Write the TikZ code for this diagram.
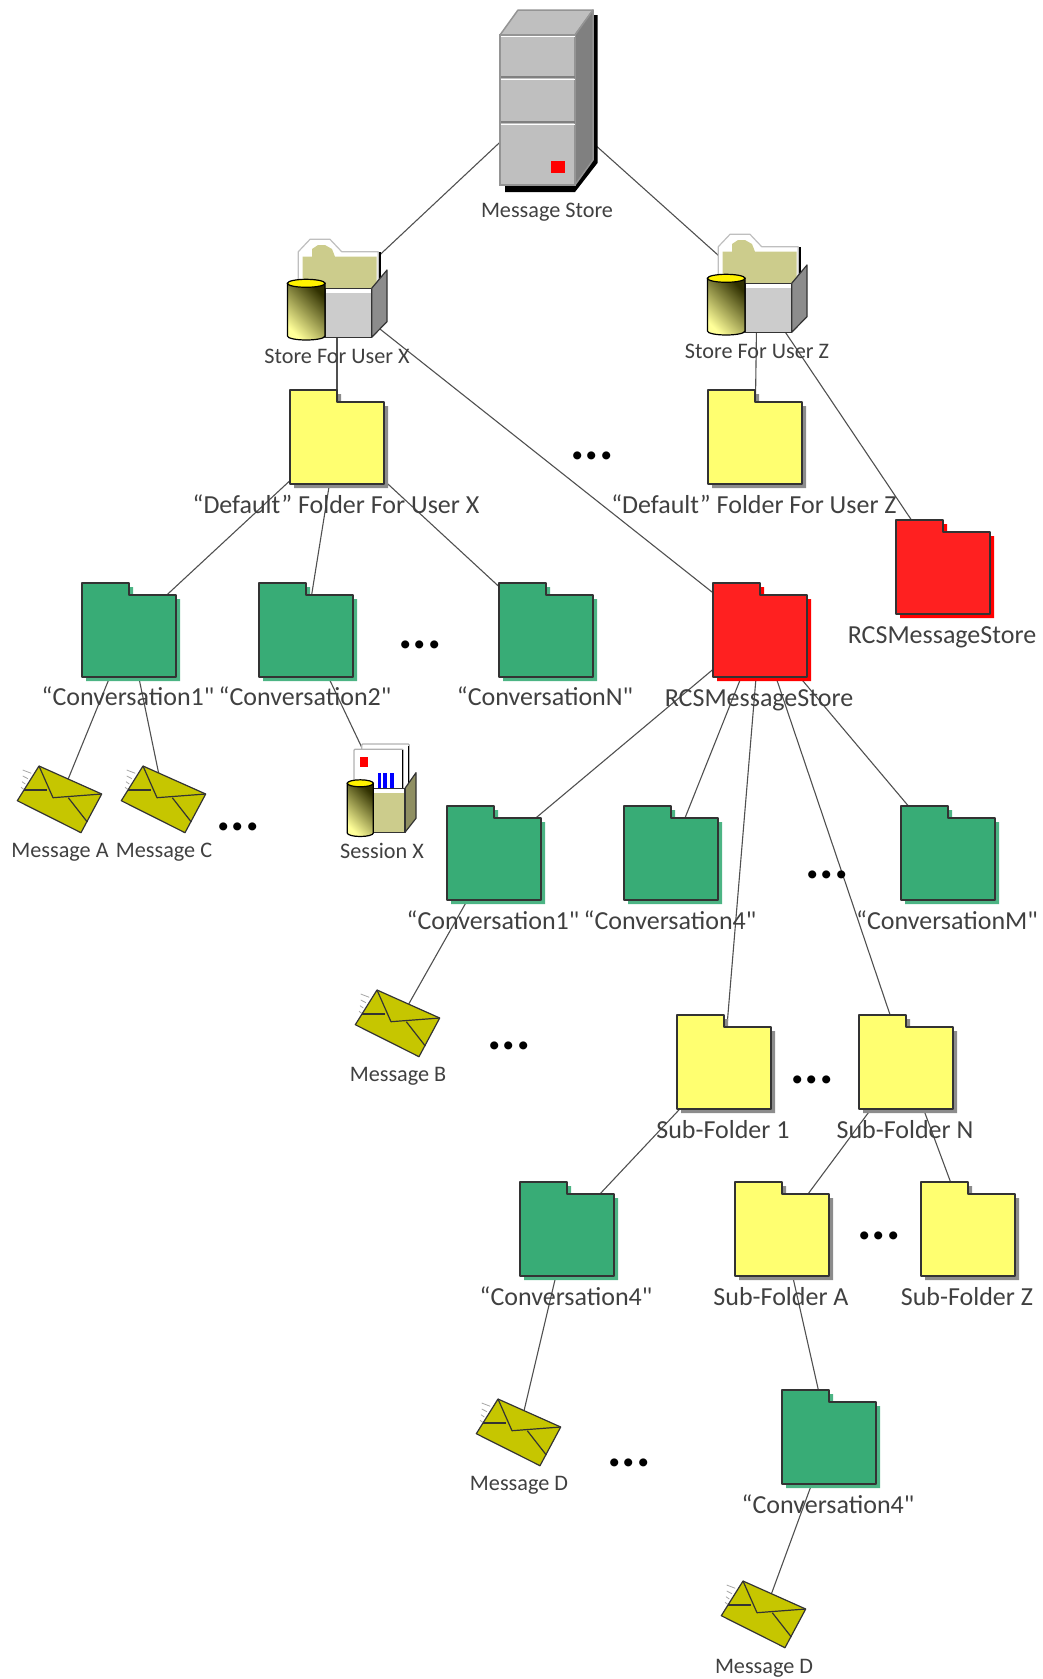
\documentclass[tikz,border=0pt]{standalone}
\usepackage{fontspec}
\newfontfamily\labelfont{Carlito}
\usetikzlibrary{positioning,backgrounds}

\definecolor{linkgray}{HTML}{505050}
\definecolor{textgray}{HTML}{404040}
\definecolor{yellowfill}{HTML}{FFFF70}
\definecolor{greenfill}{HTML}{38AC76}
\definecolor{redfill}{HTML}{FF2020}
\definecolor{envfill}{HTML}{C6C600}
\definecolor{khaki}{HTML}{CCCC8C}
\definecolor{cylbright}{HTML}{FFFF99}
\definecolor{cylmiddle}{HTML}{DADA70}
\definecolor{cyldark}{HTML}{303000}

\tikzset{
  hub/.style={inner sep=0pt,outer sep=0pt,minimum size=0pt},
  biglabel/.style={text=textgray,inner sep=0pt,xshift=-1pt,text height=17pt,text depth=0pt,font=\labelfont\fontsize{26}{28}\selectfont},
  smalllabel/.style={text=textgray,inner sep=0pt,text height=14pt,text depth=0pt,font=\labelfont\fontsize{22.2}{24}\selectfont},
  moredots/.style={inner sep=0pt,anchor=base,font=\labelfont\fontsize{54}{56}\selectfont\bfseries},
  link/.style={draw=linkgray,line width=1.1pt},
  outline/.style={draw=black!80,line width=1.2pt,line join=round},
  cylshade/.style={draw=black,line width=1.2pt,bottom color=cylbright,middle color=cylmiddle,top color=cyldark,shading angle=-45},
  pics/folder/.style 2 args={code={
    \fill[#2] (-43,-43) -- (4,-43) -- (4,-31) -- (51,-31) -- (51,51) -- (-43,51) -- cycle;
    \filldraw[outline,fill=#1] (-47,-47) -- (0,-47) -- (0,-35) -- (47,-35) -- (47,47) -- (-47,47) -- cycle;
  }},
  pics/envelope/.style={code={
    \foreach \xa/\ya/\xb/\yb in {-37.3/-29/-28.7/-25.7,-37.3/-23/-32/-20.3,-38/-17.3/-34.7/-15,-39/-11.7/-36.3/-9.7}
      \draw[black!35,line width=0.8pt] (\xa,\ya) -- (\xb,\yb);
    \filldraw[outline,fill=envfill] (-21,-33) -- (41.7,-5) -- (21,33.7) -- (-42.7,1.7) -- cycle;
    \draw[outline] (-21,-33) -- (-7,-1.3) -- (41.7,-5);
    \draw[outline] (-36,-9) -- (-13.3,-9);
    \draw[outline] (8.3,-1.3) -- (27.3,23);
  }},
  pics/server/.style={code={
    \fill[black] (48,-85) -- (52.5,-85) -- (52.5,63) -- (30,92) -- (-40,92) -- (-40,85) -- (30,85) -- (48,60) -- cycle;
    \filldraw[draw=black!42,line width=1.5pt,line join=round,fill=black!25] (-45,-65) -- (-27,-90) -- (48,-90) -- (30,-65) -- cycle;
    \filldraw[draw=black!42,line width=1.5pt,line join=round,fill=black!50] (30,-65) -- (48,-90) -- (48,60) -- (30,85) -- cycle;
    \filldraw[draw=black!42,line width=1.5pt,fill=black!25] (-45,-65) rectangle (30,85);
    \draw[white,line width=1.5pt] (-44,-63.5) -- (30,-63.5);
    \draw[black!50,line width=1.2pt] (-44,-23) -- (30,-23);
    \draw[white,line width=1.5pt] (-44,-20.5) -- (30,-20.5);
    \draw[black!50,line width=1.2pt] (-44,22) -- (30,22);
    \draw[white,line width=1.5pt] (-44,24.5) -- (30,24.5);
    \fill[red] (6,60.7) rectangle (20,73);
  }},
  pics/userstore/.style={code={
    \filldraw[draw=black!25,line width=1.2pt,line join=round,fill=white] (-38.7,-6.7) -- (-38.7,-43.3) -- (-27,-55.7) -- (-7,-55.7) -- (4.7,-43.3) -- (41.3,-43.3) -- (41.3,-6.7) -- cycle;
    \fill[khaki] (-34.3,-6.7) -- (-34.3,-38.3) -- (-25,-38.3) -- (-25,-46) -- (-19,-50) -- (-12,-50) -- (-5,-46) -- (-2,-38.3) -- (39.7,-38.3) -- (39.7,-6.7) -- cycle;
    \draw[black,line width=2pt] (42.5,-43) -- (42.5,-10);
    \filldraw[outline,fill=black!45] (34.7,-6.7) -- (50,-25) -- (50,26.7) -- (34.7,42.3) -- cycle;
    \filldraw[outline,fill=black!20] (-12,-6.7) rectangle (34.7,42.3);
    \fill[white] (-11,-6) rectangle (34,-2);
    \path[cylshade] (-49.6,-11.7) -- (-49.6,41) arc[start angle=180,end angle=360,x radius=18.8,y radius=-4] -- (-12,-11.7) -- cycle;
    \filldraw[draw=black,line width=1.2pt,fill=yellow] (-30.8,-11.7) ellipse[x radius=18.8,y radius=4];
  }},
  pics/session/.style={code={
    \filldraw[draw=black!30,line width=1.2pt,fill=white,rounded corners=1pt] (-20.3,-1.7) -- (-20.3,-46) -- (27.3,-46) -- (27.3,-1.7);
    \draw[black,line width=1pt] (26,-44) -- (26,-1.7);
    \filldraw[draw=black!30,line width=1.2pt,fill=white,rounded corners=1pt] (-28,-1.7) -- (-28,-40.7) -- (21.3,-40.7) -- (21.3,-1.7);
    \draw[black,line width=1pt] (20,-40) -- (20,-1.7);
    \fill[red] (-22.3,-33.3) rectangle (-14,-22.7);
    \fill[blue] (-4.3,-16.7) rectangle (-1.3,-1.7);
    \fill[blue] (1.3,-16.7) rectangle (4.7,-1.7);
    \fill[blue] (8,-16.7) rectangle (12.3,-1.7);
    \filldraw[outline,fill=khaki!70!black] (23,-1.7) -- (34,-17.3) -- (34,28.3) -- (23,42.3) -- cycle;
    \filldraw[outline,fill=khaki] (-9.3,-1.7) rectangle (23,42.3);
    \fill[white] (-8.5,-1) rectangle (22.3,3);
    \path[cylshade] (-34.7,-6.7) -- (-34.7,43) arc[start angle=180,end angle=360,x radius=13,y radius=-3.5] -- (-8.7,-6.7) -- cycle;
    \filldraw[draw=black,line width=1.2pt,fill=yellow] (-21.7,-6.7) ellipse[x radius=13,y radius=3.5];
  }},
}

\begin{document}
\begin{tikzpicture}[x=1pt,y=-1pt,on grid]
  \useasboundingbox (0,0) rectangle (1043,1679);

  % server and the two user stores
  \node[hub] (store) at (545,100) {};
  \pic at (store) {server};
  \node[smalllabel,below=110pt of store,xshift=2pt] (storetext) {Message Store};

  \node[hub] (userX) at (337,295) {};
  \pic at (userX) {userstore};
  \node[smalllabel,below=61pt of userX] (userXtext) {Store For User X};

  \node[hub] (userZ) at (757,290) {};
  \pic at (userZ) {userstore};
  \node[smalllabel,below=61pt of userZ] (userZtext) {Store For User Z};

  % folders of user X and user Z
  \node[hub] (defaultX) at (337,437) {};
  \pic at (defaultX) {folder={yellowfill}{black!45}};
  \node[biglabel,below=68pt of defaultX] (defaultXtext) {“Default” Folder For User X};

  \node[hub] (defaultZ) at (755,437) {};
  \pic at (defaultZ) {folder={yellowfill}{black!45}};
  \node[biglabel,below=68pt of defaultZ] (defaultZtext) {“Default” Folder For User Z};

  \node[hub] (rcsZ) at (943,567) {};
  \pic at (rcsZ) {folder={redfill}{red}};
  \node[biglabel,below=68pt of rcsZ] (rcsZtext) {RCSMessageStore};

  \node[hub] (convA) at (129,630) {};
  \pic at (convA) {folder={greenfill}{greenfill!90!white}};
  \node[biglabel,below=67pt of convA] (convAtext) {“Conversation1"};

  \node[hub] (convB) at (306,630) {};
  \pic at (convB) {folder={greenfill}{greenfill!90!white}};
  \node[biglabel,below=67pt of convB] (convBtext) {“Conversation2"};

  \node[hub] (convN) at (546,630) {};
  \pic at (convN) {folder={greenfill}{greenfill!90!white}};
  \node[biglabel,below=67pt of convN] (convNtext) {“ConversationN"};

  \node[hub] (rcsX) at (760,630) {};
  \pic at (rcsX) {folder={redfill}{red}};
  \node[biglabel,below=68pt of rcsX] (rcsXtext) {RCSMessageStore};

  % messages and session of the default folder
  \node[hub] (msgA) at (60,799) {};
  \pic at (msgA) {envelope};
  \node[smalllabel,below=51pt of msgA] (msgAtext) {Message A};

  \node[hub] (msgC) at (164,799) {};
  \pic at (msgC) {envelope};
  \node[smalllabel,below=51pt of msgC] (msgCtext) {Message C};

  \node[hub] (sessionX) at (382,790) {};
  \pic at (sessionX) {session};
  \node[smalllabel,below=61pt of sessionX] (sessionXtext) {Session X};

  % inside the RCS folder
  \node[hub] (rcsconvA) at (494,853) {};
  \pic at (rcsconvA) {folder={greenfill}{greenfill!90!white}};
  \node[biglabel,below=68pt of rcsconvA] (rcsconvAtext) {“Conversation1"};

  \node[hub] (rcsconvD) at (671,853) {};
  \pic at (rcsconvD) {folder={greenfill}{greenfill!90!white}};
  \node[biglabel,below=68pt of rcsconvD] (rcsconvDtext) {“Conversation4"};

  \node[hub] (rcsconvM) at (948,853) {};
  \pic at (rcsconvM) {folder={greenfill}{greenfill!90!white}};
  \node[biglabel,below=68pt of rcsconvM] (rcsconvMtext) {“ConversationM"};

  \node[hub] (msgB) at (398,1023) {};
  \pic at (msgB) {envelope};
  \node[smalllabel,below=51pt of msgB] (msgBtext) {Message B};

  \node[hub] (subA) at (724,1062) {};
  \pic at (subA) {folder={yellowfill}{black!45}};
  \node[biglabel,below=68pt of subA] (subAtext) {Sub-Folder 1};

  \node[hub] (subN) at (906,1062) {};
  \pic at (subN) {folder={yellowfill}{black!45}};
  \node[biglabel,below=68pt of subN] (subNtext) {Sub-Folder N};

  \node[hub] (subconv) at (567,1229) {};
  \pic at (subconv) {folder={greenfill}{greenfill!90!white}};
  \node[biglabel,below=68pt of subconv] (subconvtext) {“Conversation4"};

  \node[hub] (subsubA) at (782,1229) {};
  \pic at (subsubA) {folder={yellowfill}{black!45}};
  \node[biglabel,below=68pt of subsubA] (subsubAtext) {Sub-Folder A};

  \node[hub] (subsubZ) at (968,1229) {};
  \pic at (subsubZ) {folder={yellowfill}{black!45}};
  \node[biglabel,below=68pt of subsubZ] (subsubZtext) {Sub-Folder Z};

  \node[hub] (msgD) at (519,1432) {};
  \pic at (msgD) {envelope};
  \node[smalllabel,below=51pt of msgD] (msgDtext) {Message D};

  \node[hub] (deepconv) at (829,1437) {};
  \pic at (deepconv) {folder={greenfill}{greenfill!90!white}};
  \node[biglabel,below=68pt of deepconv] (deepconvtext) {“Conversation4"};

  \node[hub] (msgE) at (764,1614) {};
  \pic at (msgE) {envelope};
  \node[smalllabel,below=52pt of msgE] (msgEtext) {Message D};

  % the dots
  \node[moredots] (moreA) at (592,459) {...};
  \node[moredots] (moreB) at (420,648) {...};
  \node[moredots] (moreC) at (238,830) {...};
  \node[moredots] (moreD) at (827,878) {...};
  \node[moredots] (moreE) at (509,1049) {...};
  \node[moredots] (moreF) at (812,1083) {...};
  \node[moredots] (moreG) at (879,1239) {...};
  \node[moredots] (moreH) at (629,1466) {...};

  \begin{scope}[on background layer]
    \draw[link] (store) -- (userX);
    \draw[link] (store) -- (userZ);
    \draw[link] (userX) -- (defaultX);
    \draw[link] (userX) -- (rcsX);
    \draw[link] (userZ) -- (defaultZ);
    \draw[link] (userZ) -- (rcsZ);
    \draw[link] (defaultX) -- (convA);
    \draw[link] (defaultX) -- (convB);
    \draw[link] (defaultX) -- (convN);
    \draw[link] (convA) -- (msgA);
    \draw[link] (convA) -- (msgC);
    \draw[link] (convB) -- (sessionX);
    \draw[link] (rcsX) -- (rcsconvA);
    \draw[link] (rcsX) -- (rcsconvD);
    \draw[link] (rcsX) -- (rcsconvM);
    \draw[link] (rcsX) -- (subA);
    \draw[link] (rcsX) -- (subN);
    \draw[link] (rcsconvA) -- (msgB);
    \draw[link] (subA) -- (subconv);
    \draw[link] (subN) -- (subsubA);
    \draw[link] (subN) -- (subsubZ);
    \draw[link] (subconv) -- (msgD);
    \draw[link] (subsubA) -- (deepconv);
    \draw[link] (deepconv) -- (msgE);
  \end{scope}
\end{tikzpicture}
\end{document}
